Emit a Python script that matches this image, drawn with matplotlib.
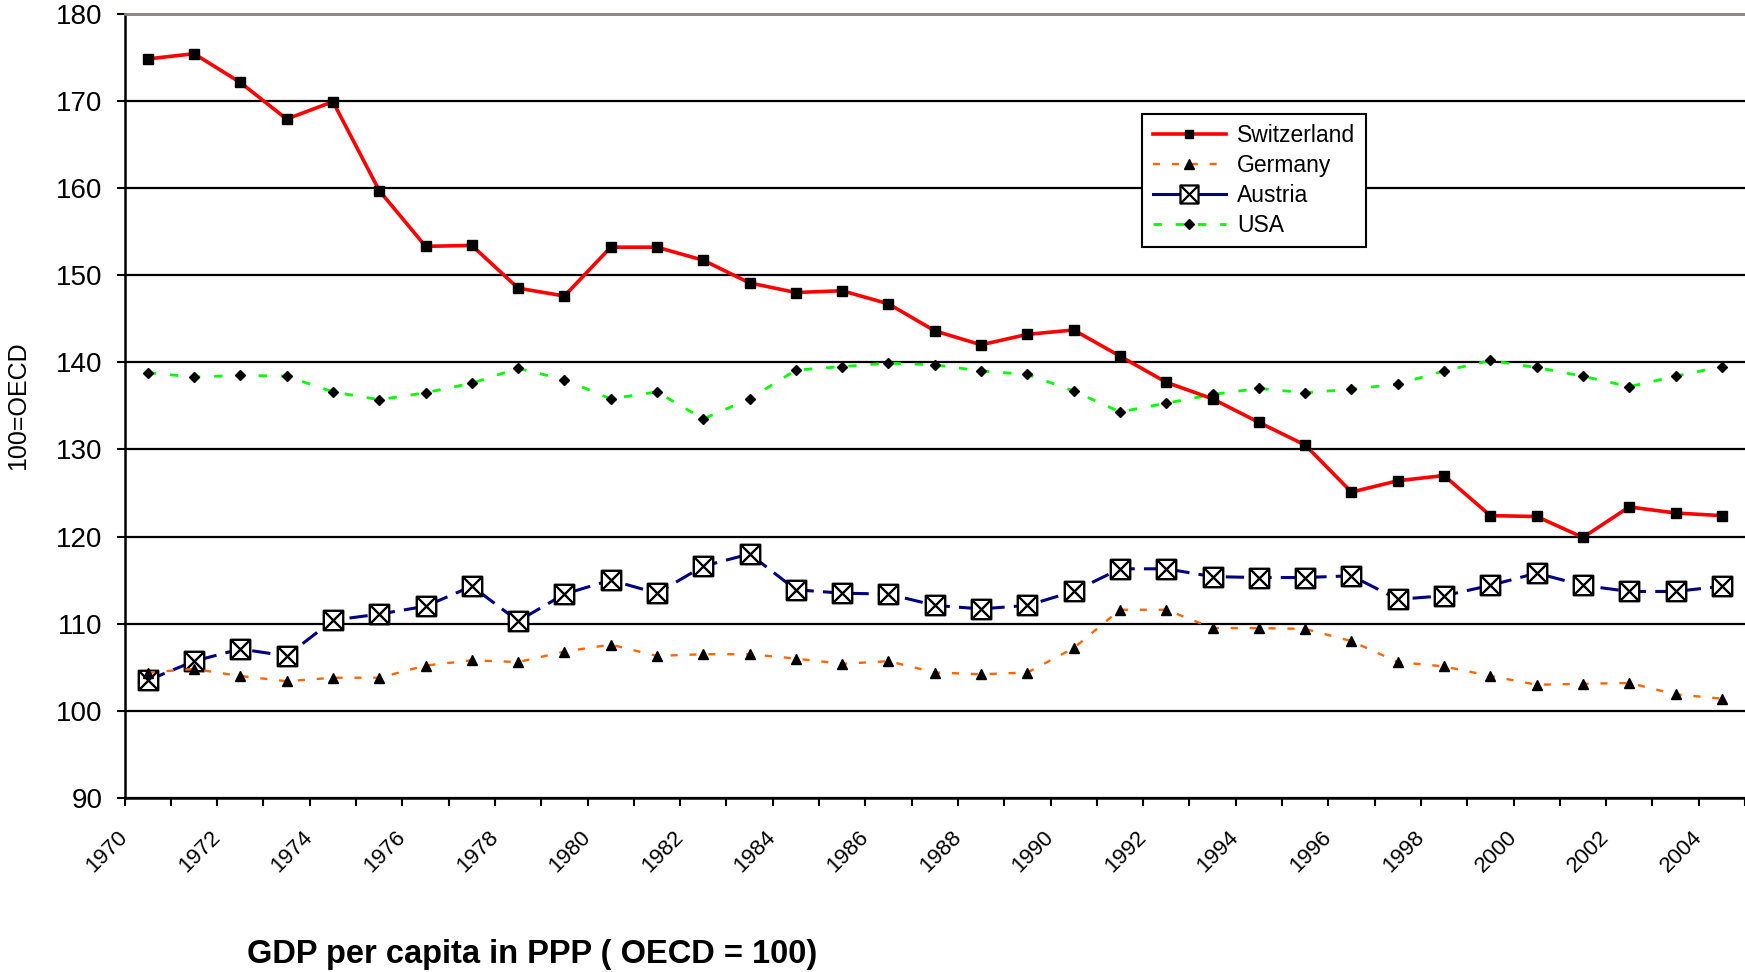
import matplotlib
matplotlib.use('Agg')
import matplotlib.pyplot as plt
from matplotlib.path import Path
from matplotlib.lines import Line2D

plt.rcParams['font.family'] = ['Liberation Sans', 'DejaVu Sans']

years = list(range(1970, 2005))

switzerland = [174.8, 175.4, 172.1, 167.9, 169.9, 159.7, 153.3, 153.4, 148.5, 147.6,
               153.2, 153.2, 151.7, 149.1, 148.0, 148.2, 146.7, 143.6, 142.0, 143.2,
               143.7, 140.7, 137.7, 135.8, 133.1, 130.5, 125.1, 126.4, 127.0, 122.4,
               122.3, 119.9, 123.4, 122.7, 122.4]
germany = [104.4, 104.8, 104.0, 103.4, 103.8, 103.8, 105.2, 105.8, 105.6, 106.8,
           107.6, 106.3, 106.5, 106.5, 106.0, 105.4, 105.7, 104.4, 104.2, 104.4,
           107.2, 111.6, 111.6, 109.5, 109.5, 109.4, 108.0, 105.6, 105.1, 104.0,
           103.0, 103.1, 103.2, 101.9, 101.4]
austria = [103.5, 105.7, 107.1, 106.3, 110.4, 111.1, 112.0, 114.3, 110.3, 113.4,
           115.0, 113.5, 116.6, 118.0, 113.9, 113.5, 113.4, 112.1, 111.7, 112.1,
           113.7, 116.3, 116.3, 115.4, 115.3, 115.3, 115.5, 112.8, 113.2, 114.4,
           115.8, 114.4, 113.7, 113.7, 114.3]
usa = [138.8, 138.3, 138.5, 138.4, 136.6, 135.7, 136.5, 137.6, 139.3, 138.0,
       135.8, 136.6, 133.5, 135.8, 139.1, 139.5, 139.9, 139.7, 139.0, 138.6,
       136.7, 134.3, 135.3, 136.3, 137.0, 136.5, 136.9, 137.5, 139.0, 140.2,
       139.4, 138.4, 137.2, 138.4, 139.5]

# square with a cross inside (Excel style marker)
box_x = Path([(-1, -1), (1, -1), (1, 1), (-1, 1), (-1, -1),
              (-1, -1), (1, 1), (-1, 1), (1, -1)],
             [Path.MOVETO, Path.LINETO, Path.LINETO, Path.LINETO, Path.CLOSEPOLY,
              Path.MOVETO, Path.LINETO, Path.MOVETO, Path.LINETO])

fig = plt.figure(figsize=(17.45, 9.72), dpi=100)
ax = fig.add_axes([0.0714, 0.179, 0.9286, 0.807])

xs = [i + 0.5 for i in range(len(years))]

ax.plot(xs, switzerland, color='#ff0000', lw=2.6, marker='s', ms=6.5,
        mfc='black', mec='black', zorder=5)
ax.plot(xs, germany, color='#ff6600', lw=1.7, dashes=(3, 5), marker='^', ms=7.5,
        mfc='black', mec='black', zorder=4)
ax.plot(xs, austria, color='#000080', lw=2.2, dashes=(6, 3), marker=box_x, ms=14,
        mfc='white', mec='black', mew=1.7, zorder=3)
ax.plot(xs, usa, color='#00ff00', lw=2.0, dashes=(3, 5), marker='D', ms=5.5,
        mfc='black', mec='black', zorder=4)

ax.set_xlim(0, len(years))
ax.set_ylim(90, 180)
ax.set_yticks(range(90, 181, 10))
ax.set_xticks(range(len(years) + 1))
ax.set_xticklabels([str(y) if (y - 1970) % 2 == 0 and y <= 2004 else ''
                    for y in range(1970, 1970 + len(years) + 1)],
                   rotation=45, ha='right', va='center', rotation_mode='anchor',
                   fontsize=16)
ax.tick_params(axis='y', labelsize=20, length=6, width=1.5, direction='out', pad=10)
ax.tick_params(axis='x', length=6, width=1.5, direction='out', pad=20)

ax.grid(axis='y', color='black', lw=1.6)
ax.set_axisbelow(True)
ax.spines['right'].set_visible(False)
ax.spines['top'].set_color('#8a8080')
ax.spines['top'].set_linewidth(2)
ax.spines['left'].set_linewidth(1.8)
ax.spines['bottom'].set_linewidth(1.8)

ax.set_ylabel('100=OECD', fontsize=18)
ax.yaxis.set_label_coords(-0.058, 0.5)

handles = [
    Line2D([], [], color='#ff0000', lw=2.6, marker='s', ms=6, mfc='black', mec='black'),
    Line2D([], [], color='#ff6600', lw=1.7, dashes=(3, 5), marker='^', ms=7, mfc='black', mec='black'),
    Line2D([], [], color='#000080', lw=2.2, marker=box_x, ms=13, mfc='white', mec='black', mew=1.6),
    Line2D([], [], color='#00ff00', lw=2.0, dashes=(3, 5), marker='D', ms=5.5, mfc='black', mec='black'),
]
leg = ax.legend(handles, ['Switzerland', 'Germany', 'Austria', 'USA'],
                loc='upper left', bbox_to_anchor=(0.628, 0.872), borderaxespad=0,
                fontsize=16.5, fancybox=False, framealpha=1, edgecolor='black',
                handlelength=3.2, handletextpad=0.5, labelspacing=0.3,
                borderpad=0.45)
leg.get_frame().set_linewidth(1.5)

fig.text(0.305, 0.0185, 'GDP per capita in PPP ( OECD = 100)', fontsize=23.5,
         fontweight='bold', ha='center', va='center')

fig.savefig('out.png', dpi=100)
